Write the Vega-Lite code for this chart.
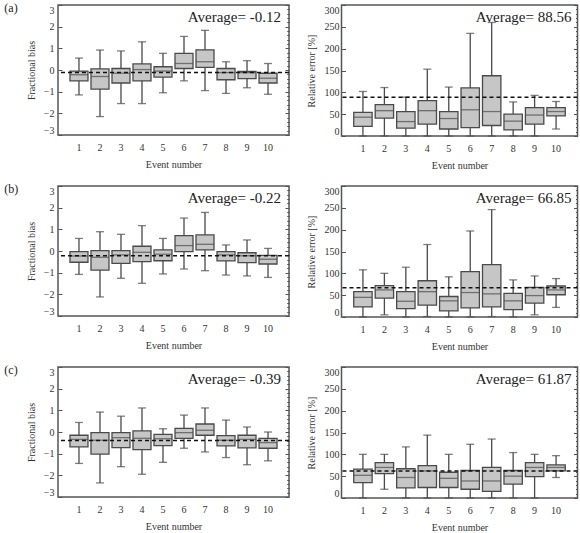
{
  "$schema": "https://vega.github.io/schema/vega-lite/v6.json",
  "padding": {"left": 3, "top": 0, "right": 2, "bottom": 0},
  "datasets": {
    "box": [
      {"panel": "a1", "event": 1, "lo": -1.15, "q1": -0.5, "med": -0.22, "q3": -0.05, "hi": 0.55},
      {"panel": "a1", "event": 2, "lo": -2.15, "q1": -0.88, "med": -0.3, "q3": 0.05, "hi": 0.92},
      {"panel": "a1", "event": 3, "lo": -1.55, "q1": -0.6, "med": -0.15, "q3": 0.07, "hi": 0.88},
      {"panel": "a1", "event": 4, "lo": -1.55, "q1": -0.5, "med": 0.02, "q3": 0.28, "hi": 1.3},
      {"panel": "a1", "event": 5, "lo": -1.05, "q1": -0.33, "med": -0.05, "q3": 0.15, "hi": 0.77},
      {"panel": "a1", "event": 6, "lo": -0.5, "q1": 0.07, "med": 0.3, "q3": 0.77, "hi": 1.55},
      {"panel": "a1", "event": 7, "lo": -0.95, "q1": 0.12, "med": 0.38, "q3": 0.93, "hi": 1.83},
      {"panel": "a1", "event": 8, "lo": -1.08, "q1": -0.45, "med": -0.12, "q3": 0.07, "hi": 0.38},
      {"panel": "a1", "event": 9, "lo": -0.82, "q1": -0.4, "med": -0.12, "q3": -0.07, "hi": 0.43},
      {"panel": "a1", "event": 10, "lo": -1.12, "q1": -0.6, "med": -0.38, "q3": -0.15, "hi": 0.3},
      {"panel": "a2", "event": 1, "lo": 0, "q1": 22, "med": 43, "q3": 54, "hi": 102},
      {"panel": "a2", "event": 2, "lo": 0, "q1": 41, "med": 58, "q3": 72, "hi": 111},
      {"panel": "a2", "event": 3, "lo": 0, "q1": 18, "med": 33, "q3": 56, "hi": 89},
      {"panel": "a2", "event": 4, "lo": 0, "q1": 27, "med": 58, "q3": 81, "hi": 153},
      {"panel": "a2", "event": 5, "lo": 0, "q1": 16, "med": 40, "q3": 56, "hi": 112},
      {"panel": "a2", "event": 6, "lo": 0, "q1": 19, "med": 60, "q3": 110, "hi": 235},
      {"panel": "a2", "event": 7, "lo": 0, "q1": 24, "med": 56, "q3": 138, "hi": 260},
      {"panel": "a2", "event": 8, "lo": 0, "q1": 14, "med": 34, "q3": 50, "hi": 78},
      {"panel": "a2", "event": 9, "lo": 0, "q1": 27, "med": 48, "q3": 65, "hi": 93},
      {"panel": "a2", "event": 10, "lo": 16, "q1": 46, "med": 56, "q3": 65, "hi": 79},
      {"panel": "b1", "event": 1, "lo": -1.08, "q1": -0.52, "med": -0.23, "q3": -0.03, "hi": 0.58},
      {"panel": "b1", "event": 2, "lo": -2.12, "q1": -0.88, "med": -0.29, "q3": 0.02, "hi": 0.89},
      {"panel": "b1", "event": 3, "lo": -1.26, "q1": -0.57, "med": -0.18, "q3": 0.02, "hi": 0.77},
      {"panel": "b1", "event": 4, "lo": -1.49, "q1": -0.49, "med": -0.06, "q3": 0.22, "hi": 1.17},
      {"panel": "b1", "event": 5, "lo": -1.06, "q1": -0.45, "med": -0.15, "q3": 0.05, "hi": 0.58},
      {"panel": "b1", "event": 6, "lo": -0.83, "q1": -0.03, "med": 0.25, "q3": 0.71, "hi": 1.52},
      {"panel": "b1", "event": 7, "lo": -0.91, "q1": 0.05, "med": 0.31, "q3": 0.74, "hi": 1.78},
      {"panel": "b1", "event": 8, "lo": -1.11, "q1": -0.46, "med": -0.18, "q3": -0.03, "hi": 0.28},
      {"panel": "b1", "event": 9, "lo": -1.15, "q1": -0.54, "med": -0.22, "q3": -0.08, "hi": 0.51},
      {"panel": "b1", "event": 10, "lo": -1.22, "q1": -0.6, "med": -0.38, "q3": -0.2, "hi": 0.12},
      {"panel": "b2", "event": 1, "lo": 0, "q1": 23, "med": 45, "q3": 58, "hi": 108},
      {"panel": "b2", "event": 2, "lo": 5, "q1": 43, "med": 62, "q3": 72, "hi": 100},
      {"panel": "b2", "event": 3, "lo": 0, "q1": 19, "med": 36, "q3": 58, "hi": 114},
      {"panel": "b2", "event": 4, "lo": 1, "q1": 27, "med": 58, "q3": 83, "hi": 166},
      {"panel": "b2", "event": 5, "lo": 0, "q1": 14, "med": 37, "q3": 47, "hi": 92},
      {"panel": "b2", "event": 6, "lo": 0, "q1": 21, "med": 56, "q3": 104, "hi": 197},
      {"panel": "b2", "event": 7, "lo": 1, "q1": 23, "med": 53, "q3": 120, "hi": 246},
      {"panel": "b2", "event": 8, "lo": 0, "q1": 17, "med": 37, "q3": 54, "hi": 85},
      {"panel": "b2", "event": 9, "lo": 5, "q1": 32, "med": 49, "q3": 68, "hi": 94},
      {"panel": "b2", "event": 10, "lo": 22, "q1": 51, "med": 62, "q3": 71, "hi": 88},
      {"panel": "c1", "event": 1, "lo": -1.45, "q1": -0.69, "med": -0.34, "q3": -0.15, "hi": 0.44},
      {"panel": "c1", "event": 2, "lo": -2.35, "q1": -1.02, "med": -0.38, "q3": -0.03, "hi": 0.92},
      {"panel": "c1", "event": 3, "lo": -1.6, "q1": -0.72, "med": -0.26, "q3": -0.03, "hi": 0.73},
      {"panel": "c1", "event": 4, "lo": -1.95, "q1": -0.81, "med": -0.29, "q3": 0.05, "hi": 1.11},
      {"panel": "c1", "event": 5, "lo": -1.4, "q1": -0.63, "med": -0.31, "q3": -0.11, "hi": 0.15},
      {"panel": "c1", "event": 6, "lo": -0.75, "q1": -0.29, "med": -0.03, "q3": 0.17, "hi": 0.78},
      {"panel": "c1", "event": 7, "lo": -0.92, "q1": -0.15, "med": 0.08, "q3": 0.37, "hi": 1.11},
      {"panel": "c1", "event": 8, "lo": -1.18, "q1": -0.64, "med": -0.38, "q3": -0.17, "hi": 0.55},
      {"panel": "c1", "event": 9, "lo": -1.51, "q1": -0.73, "med": -0.34, "q3": -0.15, "hi": 0.23},
      {"panel": "c1", "event": 10, "lo": -1.33, "q1": -0.75, "med": -0.49, "q3": -0.29, "hi": 0.0},
      {"panel": "c2", "event": 1, "lo": 0, "q1": 35, "med": 52, "q3": 66, "hi": 100},
      {"panel": "c2", "event": 2, "lo": 20, "q1": 56, "med": 70, "q3": 81, "hi": 100},
      {"panel": "c2", "event": 3, "lo": 0, "q1": 23, "med": 47, "q3": 67, "hi": 117},
      {"panel": "c2", "event": 4, "lo": 0, "q1": 24, "med": 62, "q3": 74, "hi": 144},
      {"panel": "c2", "event": 5, "lo": 0, "q1": 24, "med": 45, "q3": 59, "hi": 100},
      {"panel": "c2", "event": 6, "lo": 0, "q1": 20, "med": 39, "q3": 63, "hi": 123},
      {"panel": "c2", "event": 7, "lo": 0, "q1": 15, "med": 39, "q3": 70, "hi": 135},
      {"panel": "c2", "event": 8, "lo": 0, "q1": 32, "med": 50, "q3": 63, "hi": 104},
      {"panel": "c2", "event": 9, "lo": 0, "q1": 49, "med": 70, "q3": 81, "hi": 100},
      {"panel": "c2", "event": 10, "lo": 47, "q1": 62, "med": 70, "q3": 76, "hi": 97}
    ],
    "avg": [
      {"panel": "a1", "avg": -0.12, "label": "Average= -0.12"},
      {"panel": "a2", "avg": 88.56, "label": "Average= 88.56"},
      {"panel": "b1", "avg": -0.22, "label": "Average= -0.22"},
      {"panel": "b2", "avg": 66.85, "label": "Average= 66.85"},
      {"panel": "c1", "avg": -0.39, "label": "Average= -0.39"},
      {"panel": "c2", "avg": 61.87, "label": "Average= 61.87"}
    ]
  },
  "spacing": 10,
  "vconcat": [
    {
      "spacing": 13.5,
      "hconcat": [
        {
          "width": 231, "height": 130,
          "title": {"text": "(a)", "offset": -10},
          "data": {"name": "box"},
          "transform": [{"filter": "datum.panel === 'a1'"}],
          "layer": [
            {"mark": {"type": "rule", "color": "#4a4a4a", "strokeWidth": 1.3},
             "encoding": {
               "x": {"field": "event", "type": "ordinal", "scale": {"paddingInner": 0.143, "paddingOuter": 0.57}, "axis": {"title": "Event number", "labelAngle": 0, "ticks": false, "labelPadding": 7, "titlePadding": 7}},
               "y": {"field": "lo", "type": "quantitative", "scale": {"domain": [-3, 3], "nice": false}, "axis": {"title": "Fractional bias", "values": [-3, -2, -1, 0, 1, 2, 3], "labelFlush": true, "tickSize": -4, "labelPadding": 8, "titlePadding": 7}},
               "y2": {"field": "hi"}}},
            {"mark": {"type": "bar", "fill": "#c6c6c6", "stroke": "#4a4a4a", "strokeWidth": 1.3},
             "encoding": {
               "x": {"field": "event", "type": "ordinal"},
               "y": {"field": "q1", "type": "quantitative", "scale": {"domain": [-3, 3], "nice": false}, "axis": {"title": null, "labels": false, "tickSize": -2, "values": [-2.8, -2.6, -2.4, -2.2, -1.8, -1.6, -1.4, -1.2, -0.8, -0.6, -0.4, -0.2, 0.2, 0.4, 0.6, 0.8, 1.2, 1.4, 1.6, 1.8, 2.2, 2.4, 2.6, 2.8]}},
               "y2": {"field": "q3"}}},
            {"mark": {"type": "tick", "color": "#4a4a4a", "thickness": 1.3, "size": 18},
             "encoding": {
               "x": {"field": "event", "type": "ordinal"},
               "y": {"field": "med", "type": "quantitative", "scale": {"domain": [-3, 3], "nice": false}, "axis": {"orient": "right", "title": null, "labels": false, "tickSize": -4, "values": [-3, -2, -1, 0, 1, 2, 3]}}}},
            {"mark": {"type": "tick", "color": "#4a4a4a", "thickness": 1.3, "size": 8},
             "encoding": {
               "x": {"field": "event", "type": "ordinal"},
               "y": {"field": "lo", "type": "quantitative", "scale": {"domain": [-3, 3], "nice": false}, "axis": {"orient": "right", "title": null, "labels": false, "tickSize": -2, "values": [-2.8, -2.6, -2.4, -2.2, -1.8, -1.6, -1.4, -1.2, -0.8, -0.6, -0.4, -0.2, 0.2, 0.4, 0.6, 0.8, 1.2, 1.4, 1.6, 1.8, 2.2, 2.4, 2.6, 2.8]}}}},
            {"mark": {"type": "tick", "color": "#4a4a4a", "thickness": 1.3, "size": 8},
             "encoding": {
               "x": {"field": "event", "type": "ordinal"},
               "y": {"field": "hi", "type": "quantitative", "scale": {"domain": [-3, 3], "nice": false}, "axis": null}}},
            {"data": {"name": "avg"}, "transform": [{"filter": "datum.panel === 'a1'"}],
             "mark": {"type": "rule", "color": "#111", "strokeWidth": 1.5, "strokeDash": [4, 3]},
             "encoding": {"y": {"field": "avg", "type": "quantitative", "scale": {"domain": [-3, 3], "nice": false}, "axis": null}}},
            {"data": {"name": "avg"}, "transform": [{"filter": "datum.panel === 'a1'"}],
             "mark": {"type": "text", "align": "right", "baseline": "alphabetic", "dx": -8, "dy": 17, "font": "Liberation Serif, Times New Roman, serif", "fontSize": 15, "color": "#222"},
             "encoding": {"x": {"value": "width"}, "y": {"datum": 3, "type": "quantitative", "scale": {"domain": [-3, 3], "nice": false}, "axis": null}, "text": {"field": "label"}}}
          ],
          "resolve": {"axis": {"y": "independent"}}
        },
        {
          "width": 236, "height": 131,
          "data": {"name": "box"},
          "transform": [{"filter": "datum.panel === 'a2'"}],
          "layer": [
            {"mark": {"type": "rule", "color": "#4a4a4a", "strokeWidth": 1.3},
             "encoding": {
               "x": {"field": "event", "type": "ordinal", "scale": {"paddingInner": 0.143, "paddingOuter": 0.57}, "axis": {"title": "Event number", "labelAngle": 0, "ticks": false, "labelPadding": 7, "titlePadding": 7}},
               "y": {"field": "lo", "type": "quantitative", "scale": {"domain": [0, 300], "nice": false}, "axis": {"title": "Relative error [%]", "values": [0, 50, 100, 150, 200, 250, 300], "labelFlush": true, "tickSize": -4, "labelPadding": 6.5, "titlePadding": 8}},
               "y2": {"field": "hi"}}},
            {"mark": {"type": "bar", "fill": "#c6c6c6", "stroke": "#4a4a4a", "strokeWidth": 1.3},
             "encoding": {
               "x": {"field": "event", "type": "ordinal"},
               "y": {"field": "q1", "type": "quantitative", "scale": {"domain": [0, 300], "nice": false}, "axis": {"title": null, "labels": false, "tickSize": -2, "values": [10, 20, 30, 40, 60, 70, 80, 90, 110, 120, 130, 140, 160, 170, 180, 190, 210, 220, 230, 240, 260, 270, 280, 290]}},
               "y2": {"field": "q3"}}},
            {"mark": {"type": "tick", "color": "#4a4a4a", "thickness": 1.3, "size": 18},
             "encoding": {
               "x": {"field": "event", "type": "ordinal"},
               "y": {"field": "med", "type": "quantitative", "scale": {"domain": [0, 300], "nice": false}, "axis": {"orient": "right", "title": null, "labels": false, "tickSize": -4, "values": [0, 50, 100, 150, 200, 250, 300]}}}},
            {"mark": {"type": "tick", "color": "#4a4a4a", "thickness": 1.3, "size": 8},
             "encoding": {
               "x": {"field": "event", "type": "ordinal"},
               "y": {"field": "lo", "type": "quantitative", "scale": {"domain": [0, 300], "nice": false}, "axis": {"orient": "right", "title": null, "labels": false, "tickSize": -2, "values": [10, 20, 30, 40, 60, 70, 80, 90, 110, 120, 130, 140, 160, 170, 180, 190, 210, 220, 230, 240, 260, 270, 280, 290]}}}},
            {"mark": {"type": "tick", "color": "#4a4a4a", "thickness": 1.3, "size": 8},
             "encoding": {
               "x": {"field": "event", "type": "ordinal"},
               "y": {"field": "hi", "type": "quantitative", "scale": {"domain": [0, 300], "nice": false}, "axis": null}}},
            {"data": {"name": "avg"}, "transform": [{"filter": "datum.panel === 'a2'"}],
             "mark": {"type": "rule", "color": "#111", "strokeWidth": 1.5, "strokeDash": [4, 3]},
             "encoding": {"y": {"field": "avg", "type": "quantitative", "scale": {"domain": [0, 300], "nice": false}, "axis": null}}},
            {"data": {"name": "avg"}, "transform": [{"filter": "datum.panel === 'a2'"}],
             "mark": {"type": "text", "align": "right", "baseline": "alphabetic", "dx": -6, "dy": 17, "font": "Liberation Serif, Times New Roman, serif", "fontSize": 15, "color": "#222"},
             "encoding": {"x": {"value": "width"}, "y": {"datum": 300, "type": "quantitative", "scale": {"domain": [0, 300], "nice": false}, "axis": null}, "text": {"field": "label"}}}
          ],
          "resolve": {"axis": {"y": "independent"}}
        }
      ]
    },
    {
      "spacing": 13.5,
      "hconcat": [
        {
          "width": 231, "height": 130,
          "title": {"text": "(b)", "offset": -10},
          "data": {"name": "box"},
          "transform": [{"filter": "datum.panel === 'b1'"}],
          "layer": [
            {"mark": {"type": "rule", "color": "#4a4a4a", "strokeWidth": 1.3},
             "encoding": {
               "x": {"field": "event", "type": "ordinal", "scale": {"paddingInner": 0.143, "paddingOuter": 0.57}, "axis": {"title": "Event number", "labelAngle": 0, "ticks": false, "labelPadding": 7, "titlePadding": 7}},
               "y": {"field": "lo", "type": "quantitative", "scale": {"domain": [-3, 3], "nice": false}, "axis": {"title": "Fractional bias", "values": [-3, -2, -1, 0, 1, 2, 3], "labelFlush": true, "tickSize": -4, "labelPadding": 8, "titlePadding": 7}},
               "y2": {"field": "hi"}}},
            {"mark": {"type": "bar", "fill": "#c6c6c6", "stroke": "#4a4a4a", "strokeWidth": 1.3},
             "encoding": {
               "x": {"field": "event", "type": "ordinal"},
               "y": {"field": "q1", "type": "quantitative", "scale": {"domain": [-3, 3], "nice": false}, "axis": {"title": null, "labels": false, "tickSize": -2, "values": [-2.8, -2.6, -2.4, -2.2, -1.8, -1.6, -1.4, -1.2, -0.8, -0.6, -0.4, -0.2, 0.2, 0.4, 0.6, 0.8, 1.2, 1.4, 1.6, 1.8, 2.2, 2.4, 2.6, 2.8]}},
               "y2": {"field": "q3"}}},
            {"mark": {"type": "tick", "color": "#4a4a4a", "thickness": 1.3, "size": 18},
             "encoding": {
               "x": {"field": "event", "type": "ordinal"},
               "y": {"field": "med", "type": "quantitative", "scale": {"domain": [-3, 3], "nice": false}, "axis": {"orient": "right", "title": null, "labels": false, "tickSize": -4, "values": [-3, -2, -1, 0, 1, 2, 3]}}}},
            {"mark": {"type": "tick", "color": "#4a4a4a", "thickness": 1.3, "size": 8},
             "encoding": {
               "x": {"field": "event", "type": "ordinal"},
               "y": {"field": "lo", "type": "quantitative", "scale": {"domain": [-3, 3], "nice": false}, "axis": {"orient": "right", "title": null, "labels": false, "tickSize": -2, "values": [-2.8, -2.6, -2.4, -2.2, -1.8, -1.6, -1.4, -1.2, -0.8, -0.6, -0.4, -0.2, 0.2, 0.4, 0.6, 0.8, 1.2, 1.4, 1.6, 1.8, 2.2, 2.4, 2.6, 2.8]}}}},
            {"mark": {"type": "tick", "color": "#4a4a4a", "thickness": 1.3, "size": 8},
             "encoding": {
               "x": {"field": "event", "type": "ordinal"},
               "y": {"field": "hi", "type": "quantitative", "scale": {"domain": [-3, 3], "nice": false}, "axis": null}}},
            {"data": {"name": "avg"}, "transform": [{"filter": "datum.panel === 'b1'"}],
             "mark": {"type": "rule", "color": "#111", "strokeWidth": 1.5, "strokeDash": [4, 3]},
             "encoding": {"y": {"field": "avg", "type": "quantitative", "scale": {"domain": [-3, 3], "nice": false}, "axis": null}}},
            {"data": {"name": "avg"}, "transform": [{"filter": "datum.panel === 'b1'"}],
             "mark": {"type": "text", "align": "right", "baseline": "alphabetic", "dx": -8, "dy": 17, "font": "Liberation Serif, Times New Roman, serif", "fontSize": 15, "color": "#222"},
             "encoding": {"x": {"value": "width"}, "y": {"datum": 3, "type": "quantitative", "scale": {"domain": [-3, 3], "nice": false}, "axis": null}, "text": {"field": "label"}}}
          ],
          "resolve": {"axis": {"y": "independent"}}
        },
        {
          "width": 236, "height": 131,
          "data": {"name": "box"},
          "transform": [{"filter": "datum.panel === 'b2'"}],
          "layer": [
            {"mark": {"type": "rule", "color": "#4a4a4a", "strokeWidth": 1.3},
             "encoding": {
               "x": {"field": "event", "type": "ordinal", "scale": {"paddingInner": 0.143, "paddingOuter": 0.57}, "axis": {"title": "Event number", "labelAngle": 0, "ticks": false, "labelPadding": 7, "titlePadding": 7}},
               "y": {"field": "lo", "type": "quantitative", "scale": {"domain": [0, 300], "nice": false}, "axis": {"title": "Relative error [%]", "values": [0, 50, 100, 150, 200, 250, 300], "labelFlush": true, "tickSize": -4, "labelPadding": 6.5, "titlePadding": 8}},
               "y2": {"field": "hi"}}},
            {"mark": {"type": "bar", "fill": "#c6c6c6", "stroke": "#4a4a4a", "strokeWidth": 1.3},
             "encoding": {
               "x": {"field": "event", "type": "ordinal"},
               "y": {"field": "q1", "type": "quantitative", "scale": {"domain": [0, 300], "nice": false}, "axis": {"title": null, "labels": false, "tickSize": -2, "values": [10, 20, 30, 40, 60, 70, 80, 90, 110, 120, 130, 140, 160, 170, 180, 190, 210, 220, 230, 240, 260, 270, 280, 290]}},
               "y2": {"field": "q3"}}},
            {"mark": {"type": "tick", "color": "#4a4a4a", "thickness": 1.3, "size": 18},
             "encoding": {
               "x": {"field": "event", "type": "ordinal"},
               "y": {"field": "med", "type": "quantitative", "scale": {"domain": [0, 300], "nice": false}, "axis": {"orient": "right", "title": null, "labels": false, "tickSize": -4, "values": [0, 50, 100, 150, 200, 250, 300]}}}},
            {"mark": {"type": "tick", "color": "#4a4a4a", "thickness": 1.3, "size": 8},
             "encoding": {
               "x": {"field": "event", "type": "ordinal"},
               "y": {"field": "lo", "type": "quantitative", "scale": {"domain": [0, 300], "nice": false}, "axis": {"orient": "right", "title": null, "labels": false, "tickSize": -2, "values": [10, 20, 30, 40, 60, 70, 80, 90, 110, 120, 130, 140, 160, 170, 180, 190, 210, 220, 230, 240, 260, 270, 280, 290]}}}},
            {"mark": {"type": "tick", "color": "#4a4a4a", "thickness": 1.3, "size": 8},
             "encoding": {
               "x": {"field": "event", "type": "ordinal"},
               "y": {"field": "hi", "type": "quantitative", "scale": {"domain": [0, 300], "nice": false}, "axis": null}}},
            {"data": {"name": "avg"}, "transform": [{"filter": "datum.panel === 'b2'"}],
             "mark": {"type": "rule", "color": "#111", "strokeWidth": 1.5, "strokeDash": [4, 3]},
             "encoding": {"y": {"field": "avg", "type": "quantitative", "scale": {"domain": [0, 300], "nice": false}, "axis": null}}},
            {"data": {"name": "avg"}, "transform": [{"filter": "datum.panel === 'b2'"}],
             "mark": {"type": "text", "align": "right", "baseline": "alphabetic", "dx": -6, "dy": 17, "font": "Liberation Serif, Times New Roman, serif", "fontSize": 15, "color": "#222"},
             "encoding": {"x": {"value": "width"}, "y": {"datum": 300, "type": "quantitative", "scale": {"domain": [0, 300], "nice": false}, "axis": null}, "text": {"field": "label"}}}
          ],
          "resolve": {"axis": {"y": "independent"}}
        }
      ]
    },
    {
      "spacing": 13.5,
      "hconcat": [
        {
          "width": 231, "height": 130,
          "title": {"text": "(c)", "offset": -10},
          "data": {"name": "box"},
          "transform": [{"filter": "datum.panel === 'c1'"}],
          "layer": [
            {"mark": {"type": "rule", "color": "#4a4a4a", "strokeWidth": 1.3},
             "encoding": {
               "x": {"field": "event", "type": "ordinal", "scale": {"paddingInner": 0.143, "paddingOuter": 0.57}, "axis": {"title": "Event number", "labelAngle": 0, "ticks": false, "labelPadding": 7, "titlePadding": 7}},
               "y": {"field": "lo", "type": "quantitative", "scale": {"domain": [-3, 3], "nice": false}, "axis": {"title": "Fractional bias", "values": [-3, -2, -1, 0, 1, 2, 3], "labelFlush": true, "tickSize": -4, "labelPadding": 8, "titlePadding": 7}},
               "y2": {"field": "hi"}}},
            {"mark": {"type": "bar", "fill": "#c6c6c6", "stroke": "#4a4a4a", "strokeWidth": 1.3},
             "encoding": {
               "x": {"field": "event", "type": "ordinal"},
               "y": {"field": "q1", "type": "quantitative", "scale": {"domain": [-3, 3], "nice": false}, "axis": {"title": null, "labels": false, "tickSize": -2, "values": [-2.8, -2.6, -2.4, -2.2, -1.8, -1.6, -1.4, -1.2, -0.8, -0.6, -0.4, -0.2, 0.2, 0.4, 0.6, 0.8, 1.2, 1.4, 1.6, 1.8, 2.2, 2.4, 2.6, 2.8]}},
               "y2": {"field": "q3"}}},
            {"mark": {"type": "tick", "color": "#4a4a4a", "thickness": 1.3, "size": 18},
             "encoding": {
               "x": {"field": "event", "type": "ordinal"},
               "y": {"field": "med", "type": "quantitative", "scale": {"domain": [-3, 3], "nice": false}, "axis": {"orient": "right", "title": null, "labels": false, "tickSize": -4, "values": [-3, -2, -1, 0, 1, 2, 3]}}}},
            {"mark": {"type": "tick", "color": "#4a4a4a", "thickness": 1.3, "size": 8},
             "encoding": {
               "x": {"field": "event", "type": "ordinal"},
               "y": {"field": "lo", "type": "quantitative", "scale": {"domain": [-3, 3], "nice": false}, "axis": {"orient": "right", "title": null, "labels": false, "tickSize": -2, "values": [-2.8, -2.6, -2.4, -2.2, -1.8, -1.6, -1.4, -1.2, -0.8, -0.6, -0.4, -0.2, 0.2, 0.4, 0.6, 0.8, 1.2, 1.4, 1.6, 1.8, 2.2, 2.4, 2.6, 2.8]}}}},
            {"mark": {"type": "tick", "color": "#4a4a4a", "thickness": 1.3, "size": 8},
             "encoding": {
               "x": {"field": "event", "type": "ordinal"},
               "y": {"field": "hi", "type": "quantitative", "scale": {"domain": [-3, 3], "nice": false}, "axis": null}}},
            {"data": {"name": "avg"}, "transform": [{"filter": "datum.panel === 'c1'"}],
             "mark": {"type": "rule", "color": "#111", "strokeWidth": 1.5, "strokeDash": [4, 3]},
             "encoding": {"y": {"field": "avg", "type": "quantitative", "scale": {"domain": [-3, 3], "nice": false}, "axis": null}}},
            {"data": {"name": "avg"}, "transform": [{"filter": "datum.panel === 'c1'"}],
             "mark": {"type": "text", "align": "right", "baseline": "alphabetic", "dx": -8, "dy": 17, "font": "Liberation Serif, Times New Roman, serif", "fontSize": 15, "color": "#222"},
             "encoding": {"x": {"value": "width"}, "y": {"datum": 3, "type": "quantitative", "scale": {"domain": [-3, 3], "nice": false}, "axis": null}, "text": {"field": "label"}}}
          ],
          "resolve": {"axis": {"y": "independent"}}
        },
        {
          "width": 236, "height": 131,
          "data": {"name": "box"},
          "transform": [{"filter": "datum.panel === 'c2'"}],
          "layer": [
            {"mark": {"type": "rule", "color": "#4a4a4a", "strokeWidth": 1.3},
             "encoding": {
               "x": {"field": "event", "type": "ordinal", "scale": {"paddingInner": 0.143, "paddingOuter": 0.57}, "axis": {"title": "Event number", "labelAngle": 0, "ticks": false, "labelPadding": 7, "titlePadding": 7}},
               "y": {"field": "lo", "type": "quantitative", "scale": {"domain": [0, 300], "nice": false}, "axis": {"title": "Relative error [%]", "values": [0, 50, 100, 150, 200, 250, 300], "labelFlush": true, "tickSize": -4, "labelPadding": 6.5, "titlePadding": 8}},
               "y2": {"field": "hi"}}},
            {"mark": {"type": "bar", "fill": "#c6c6c6", "stroke": "#4a4a4a", "strokeWidth": 1.3},
             "encoding": {
               "x": {"field": "event", "type": "ordinal"},
               "y": {"field": "q1", "type": "quantitative", "scale": {"domain": [0, 300], "nice": false}, "axis": {"title": null, "labels": false, "tickSize": -2, "values": [10, 20, 30, 40, 60, 70, 80, 90, 110, 120, 130, 140, 160, 170, 180, 190, 210, 220, 230, 240, 260, 270, 280, 290]}},
               "y2": {"field": "q3"}}},
            {"mark": {"type": "tick", "color": "#4a4a4a", "thickness": 1.3, "size": 18},
             "encoding": {
               "x": {"field": "event", "type": "ordinal"},
               "y": {"field": "med", "type": "quantitative", "scale": {"domain": [0, 300], "nice": false}, "axis": {"orient": "right", "title": null, "labels": false, "tickSize": -4, "values": [0, 50, 100, 150, 200, 250, 300]}}}},
            {"mark": {"type": "tick", "color": "#4a4a4a", "thickness": 1.3, "size": 8},
             "encoding": {
               "x": {"field": "event", "type": "ordinal"},
               "y": {"field": "lo", "type": "quantitative", "scale": {"domain": [0, 300], "nice": false}, "axis": {"orient": "right", "title": null, "labels": false, "tickSize": -2, "values": [10, 20, 30, 40, 60, 70, 80, 90, 110, 120, 130, 140, 160, 170, 180, 190, 210, 220, 230, 240, 260, 270, 280, 290]}}}},
            {"mark": {"type": "tick", "color": "#4a4a4a", "thickness": 1.3, "size": 8},
             "encoding": {
               "x": {"field": "event", "type": "ordinal"},
               "y": {"field": "hi", "type": "quantitative", "scale": {"domain": [0, 300], "nice": false}, "axis": null}}},
            {"data": {"name": "avg"}, "transform": [{"filter": "datum.panel === 'c2'"}],
             "mark": {"type": "rule", "color": "#111", "strokeWidth": 1.5, "strokeDash": [4, 3]},
             "encoding": {"y": {"field": "avg", "type": "quantitative", "scale": {"domain": [0, 300], "nice": false}, "axis": null}}},
            {"data": {"name": "avg"}, "transform": [{"filter": "datum.panel === 'c2'"}],
             "mark": {"type": "text", "align": "right", "baseline": "alphabetic", "dx": -6, "dy": 17, "font": "Liberation Serif, Times New Roman, serif", "fontSize": 15, "color": "#222"},
             "encoding": {"x": {"value": "width"}, "y": {"datum": 300, "type": "quantitative", "scale": {"domain": [0, 300], "nice": false}, "axis": null}, "text": {"field": "label"}}}
          ],
          "resolve": {"axis": {"y": "independent"}}
        }
      ]
    }
  ],
  "config": {
    "view": {"stroke": "#555", "strokeWidth": 1.5},
    "axis": {
      "labelFont": "Liberation Serif, Times New Roman, serif", "titleFont": "Liberation Serif, Times New Roman, serif",
      "labelFontSize": 10, "titleFontSize": 10, "titleFontWeight": "normal",
      "labelColor": "#333", "titleColor": "#333", "tickColor": "#555",
      "domain": false, "grid": false
    },
    "title": {
      "font": "Liberation Serif, Times New Roman, serif", "fontSize": 12, "fontWeight": "normal", "color": "#222",
      "anchor": "start", "frame": "bounds", "baseline": "middle", "dx": -22
    }
  }
}
